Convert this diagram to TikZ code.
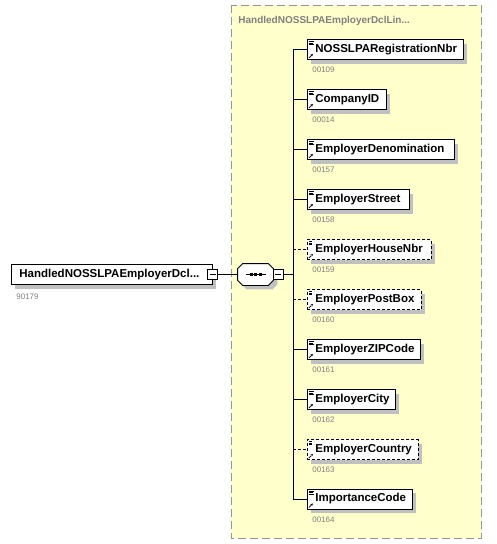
\documentclass[tikz,border=0pt]{standalone}
\usepackage{fontspec}
\setmainfont{Liberation Sans}
\usetikzlibrary{arrows.meta}
\definecolor{grpfill}{RGB}{255,255,204}
\definecolor{grpline}{RGB}{150,150,150}
\definecolor{shadowgray}{RGB}{192,192,192}
\definecolor{numgray}{RGB}{128,128,128}
\tikzset{
  shade4/.style={preaction={fill=shadowgray, draw=none, transform canvas={xshift=4pt, yshift=-4pt}}},
  box/.style={draw, fill=white, line width=0.8pt, anchor=west, minimum height=20pt,
    inner xsep=8pt, inner ysep=0pt, align=left, font=\fontsize{11.5}{13}\selectfont\bfseries, shade4},
  elem/.style={box, path picture={
    \draw[line width=0.5pt] ([xshift=1.5pt,yshift=-2pt]path picture bounding box.north west) -- ++(5pt,0)
      ++(-5pt,-1.5pt) -- ++(4pt,0) ++(-4pt,-1.5pt) -- ++(5pt,0);
    \draw[line width=0.7pt, -{Stealth[length=2.5pt,width=2.5pt]}] ([xshift=1.5pt,yshift=1.5pt]path picture bounding box.south west) -- ++(4pt,4pt);}},
  opt/.style={dash pattern=on 3pt off 2pt},
  num/.style={anchor=west, inner sep=0pt, text=numgray, font=\fontsize{8}{10}\selectfont},
  minus/.style={draw, fill=white, line width=0.8pt, minimum size=10pt, inner sep=0pt,
    path picture={\draw[line width=0.8pt] ([xshift=2pt]path picture bounding box.west) -- ([xshift=-2pt]path picture bounding box.east);}},
  seqbox/.style={minimum width=35pt, minimum height=21pt, inner sep=0pt},
  grp/.style={fill=grpfill, draw=grpline, line width=1pt, dash pattern=on 8pt off 4pt},
}
\begin{document}
\begin{tikzpicture}[x=1pt, y=-1pt, line width=0.8pt]
	\useasboundingbox (0,0) rectangle (496,544);
	%Gruppe
	\draw[grp] (231,5) rectangle (481,538);
	\node[anchor=west, inner sep=0pt, text=numgray, font=\fontsize{10}{12}\selectfont\bfseries] (grptitle) at (238,21) {HandledNOSSLPAEmployerDclLin...};
	
	%Hauptelement
	\node[box, text width=185pt] (main) at (11,274.5) {HandledNOSSLPAEmployerDcl...};
	\node[num] (mainno) at (16,297) {90179};
	\node[minus] (mainminus) at (main.east) {};
	
	%Sequenz
	\node[seqbox] (seq) at (255.5,274.5) {};
	\draw[fill=white, shade4] ([xshift=5pt]seq.north west) -- ([xshift=-5pt]seq.north east) -- ([yshift=-5pt]seq.north east)
	  -- ([yshift=5pt]seq.south east) -- ([xshift=-5pt]seq.south east) -- ([xshift=5pt]seq.south west)
	  -- ([yshift=5pt]seq.south west) -- ([yshift=-5pt]seq.north west) -- cycle;
	\draw[line width=1pt] ([xshift=-10pt]seq.center) -- ([xshift=10pt]seq.center);
	\fill ([xshift=-4.5pt]seq.center) +(-1.5pt,-1.5pt) rectangle +(1.5pt,1.5pt);
	\fill (seq.center) +(-1.5pt,-1.5pt) rectangle +(1.5pt,1.5pt);
	\fill ([xshift=4.5pt]seq.center) +(-1.5pt,-1.5pt) rectangle +(1.5pt,1.5pt);
	\node[minus] (seqminus) at ([xshift=5pt]seq.east) {};
	\draw (mainminus.east) -- (seq.west);
	\coordinate (spine) at (293,274.5);
	\draw (seqminus.east) -- (spine);
	
	%Kindelemente
	\node[elem, text width=140pt] (regnbr) at (307,49.5) {NOSSLPARegistrationNbr};
	\node[num] (regnbrno) at (312,70) {00109};
	\node[elem, text width=63pt] (compid) at (307,99.5) {CompanyID};
	\node[num] (compidno) at (312,120) {00014};
	\node[elem, text width=131pt] (denom) at (307,149.5) {EmployerDenomination};
	\node[num] (denomno) at (312,170) {00157};
	\node[elem, text width=86pt] (street) at (307,199.5) {EmployerStreet};
	\node[num] (streetno) at (312,220) {00158};
	\node[elem, opt, text width=108pt] (housenbr) at (307,249.5) {EmployerHouseNbr};
	\node[num] (housenbrno) at (312,270) {00159};
	\node[elem, opt, text width=98pt] (postbox) at (307,299.5) {EmployerPostBox};
	\node[num] (postboxno) at (312,320) {00160};
	\node[elem, text width=97pt] (zip) at (307,349.5) {EmployerZIPCode};
	\node[num] (zipno) at (312,370) {00161};
	\node[elem, text width=72pt] (city) at (307,399.5) {EmployerCity};
	\node[num] (cityno) at (312,420) {00162};
	\node[elem, opt, text width=95pt] (country) at (307,449.5) {EmployerCountry};
	\node[num] (countryno) at (312,470) {00163};
	\node[elem, text width=89pt] (impcode) at (307,499) {ImportanceCode};
	\node[num] (impcodeno) at (312,520) {00164};
	
	%Verbindungen
	\draw (spine |- regnbr.west) -- (spine |- impcode.west);
	\draw (spine |- regnbr.west) -- (regnbr.west);
	\draw (spine |- compid.west) -- (compid.west);
	\draw (spine |- denom.west) -- (denom.west);
	\draw (spine |- street.west) -- (street.west);
	\draw[opt] (spine |- housenbr.west) -- (housenbr.west);
	\draw[opt] (spine |- postbox.west) -- (postbox.west);
	\draw (spine |- zip.west) -- (zip.west);
	\draw (spine |- city.west) -- (city.west);
	\draw[opt] (spine |- country.west) -- (country.west);
	\draw (spine |- impcode.west) -- (impcode.west);
\end{tikzpicture}
\end{document}
